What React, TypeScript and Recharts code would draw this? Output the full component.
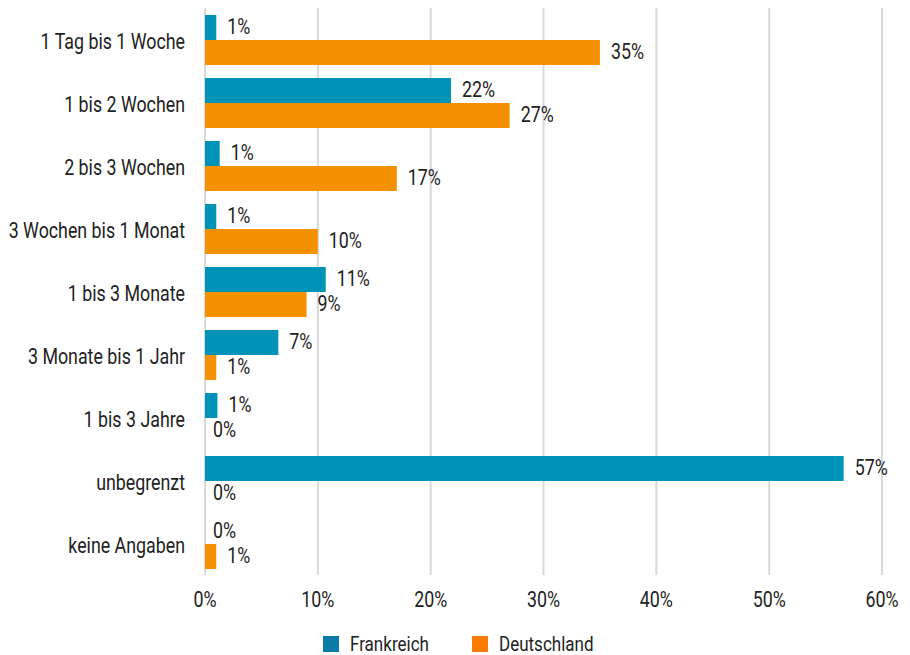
import { BarChart, Bar, XAxis, YAxis, CartesianGrid, LabelList, Legend } from "recharts";

const categories = [
  "1 Tag bis 1 Woche",
  "1 bis 2 Wochen",
  "2 bis 3 Wochen",
  "3 Wochen bis 1 Monat",
  "1 bis 3 Monate",
  "3 Monate bis 1 Jahr",
  "1 bis 3 Jahre",
  "unbegrenzt",
  "keine Angaben",
];
const frankreich = [1.0, 21.8, 1.3, 1.0, 10.7, 6.5, 1.1, 56.6, 0];
const deutschland = [35.0, 27.0, 17.0, 10.0, 9.0, 1.0, 0, 0, 1.0];
const xTicks = [0, 10, 20, 30, 40, 50, 60];

const data = categories.map((name, i) => ({
  name,
  Frankreich: frankreich[i],
  Deutschland: deutschland[i],
}));

const FONT = "Roboto, sans-serif";
const SQUEEZE = 0.81; // fake a condensed face
const INK = "#222";
const BAR = 25;

const legendItems = [
  { label: "Frankreich", color: "#0A7BA6", w: 79 },
  { label: "Deutschland", color: "#FF7A00", w: 96 },
];

const LegendContent = () => (
  <div style={{ height: 40, display: "flex", justifyContent: "center", alignItems: "flex-start", paddingTop: 21, boxSizing: "border-box", gap: 43, fontFamily: FONT, fontSize: 21, color: INK, paddingLeft: 36 }}>
    {legendItems.map((item) => (
      <span key={item.label} style={{ display: "flex", alignItems: "center", height: 16 }}>
        <span style={{ width: 16, height: 16, background: item.color, display: "inline-block", marginRight: 11 }} />
        <span style={{ display: "inline-block", width: item.w, whiteSpace: "nowrap", lineHeight: "16px" }}>
          <span style={{ display: "inline-block", transform: `scaleX(${SQUEEZE})`, transformOrigin: "left" }}>{item.label}</span>
        </span>
      </span>
    ))}
  </div>
);

const Squeezed = ({ x, y, anchor, size, children }: any) => (
  <g transform={`translate(${x},${y}) scale(${SQUEEZE},1)`}>
    <text x={0} y={0} dy="0.36em" textAnchor={anchor} fontSize={size} fill={INK} fontFamily={FONT}>
      {children}
    </text>
  </g>
);

const YTick = ({ x, y, payload }: any) => (
  <Squeezed x={x} y={y + 2} anchor="end" size={22}>{payload.value}</Squeezed>
);

const XTick = ({ x, y, payload }: any) => (
  <Squeezed x={x} y={y + 16} anchor="middle" size={22}>{`${payload.value}%`}</Squeezed>
);

const pctText = (v: number) => `${Math.round(v)}%`;

// Recharts skips zero-length bars in the label list (and its index), so map
// back to the category and let each series also write the other's "0%".
const makeLabel = (own: number[], other: number[], otherBelow: boolean) => {
  const shown = own.map((v, i) => (v !== 0 ? i : -1)).filter((i) => i >= 0);
  return (props: any) => {
    const { x, y, width, height, value, index } = props;
    const cat = shown[index] ?? index;
    const bx = Number(x);
    const by = Number(y);
    const h = Number(height);
    const parts = [
      <Squeezed key="own" x={bx + Number(width || 0) + 11} y={by + h / 2 - 1} anchor="start" size={22}>
        {pctText(Number(value))}
      </Squeezed>,
    ];
    if (other[cat] === 0) {
      const oy = otherBelow ? by + h + BAR / 2 : by - BAR / 2;
      parts.push(
        <Squeezed key="other" x={bx + 8} y={oy - 1} anchor="start" size={22}>
          {pctText(0)}
        </Squeezed>
      );
    }
    return <g>{parts}</g>;
  };
};

const FrLabel = makeLabel(frankreich, deutschland, true);
const DeLabel = makeLabel(deutschland, frankreich, false);

export default function App() {
  return (
    <div style={{ width: 910, height: 655, fontFamily: FONT }}>
      <style>{`body{margin:0}`}</style>
      <BarChart
        width={910}
        height={655}
        data={data}
        layout="vertical"
        margin={{ top: 8, right: 28, left: 0, bottom: 0 }}
        barGap={0}
        barCategoryGap="10%"
      >
        <CartesianGrid horizontal={false} stroke="#d9d9d9" strokeWidth={2} />
        <XAxis
          type="number"
          domain={[0, 60]}
          ticks={xTicks}
          axisLine={false}
          tickLine={false}
          height={40}
          tick={<XTick />}
        />
        <YAxis
          type="category"
          dataKey="name"
          width={205}
          axisLine={false}
          tickLine={false}
          tickMargin={14}
          tick={<YTick />}
        />
        <Legend verticalAlign="bottom" content={<LegendContent />} />
        <Bar dataKey="Frankreich" fill="#0093B8" barSize={BAR} isAnimationActive={false}>
          <LabelList dataKey="Frankreich" content={FrLabel} />
        </Bar>
        <Bar dataKey="Deutschland" fill="#F39100" barSize={BAR} isAnimationActive={false}>
          <LabelList dataKey="Deutschland" content={DeLabel} />
        </Bar>
      </BarChart>
    </div>
  );
}
